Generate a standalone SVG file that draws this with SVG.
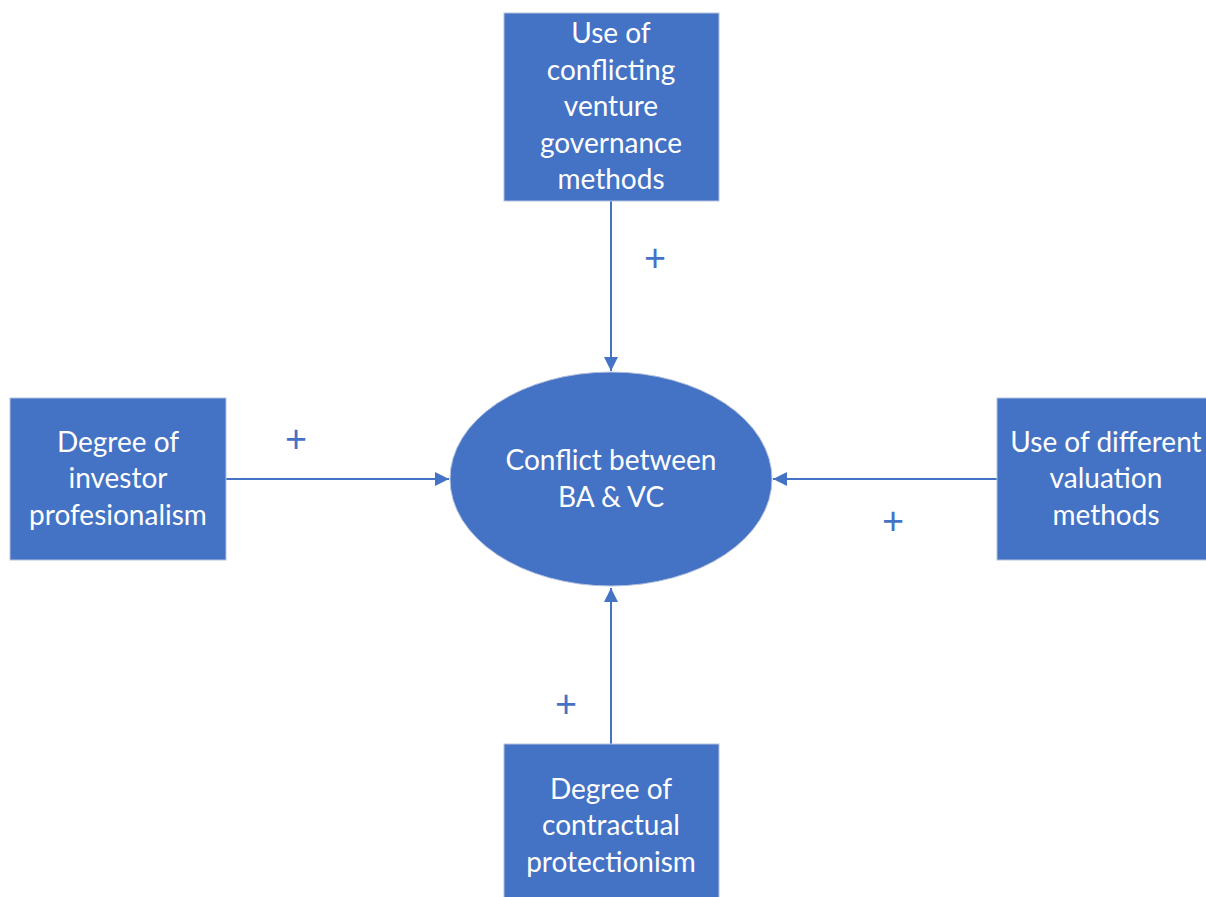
<svg xmlns="http://www.w3.org/2000/svg" width="1206" height="897" viewBox="0 0 1206 897">
<style>
.box{fill:#4472C4;stroke:#B4C2DE;stroke-width:1}
.t{font-family:Lato,"Noto Sans","Liberation Sans",sans-serif;font-size:28px;fill:#FFFFFF;text-anchor:middle}
.c{stroke:#4472C4;stroke-width:2;fill:none;marker-end:url(#ah)}
.p{font-family:Lato,"Liberation Sans",sans-serif;font-size:38px;fill:#4472C4;text-anchor:middle}
</style>
<defs>
<marker id="ah" viewBox="0 0 10 10" refX="10" refY="5" markerWidth="7" markerHeight="7" orient="auto" markerUnits="strokeWidth">
<path d="M0,0 L10,5 L0,10 z" fill="#4472C4"/>
</marker>
</defs>
<rect width="1206" height="897" fill="#FFFFFF"/>
<g id="connectors">
<line class="c" x1="611" y1="201" x2="611" y2="371"/>
<line class="c" x1="226" y1="479" x2="449" y2="479"/>
<line class="c" x1="997" y1="479" x2="773" y2="479"/>
<line class="c" x1="611" y1="744" x2="611" y2="588"/>
<text class="p" x="655" y="271">+</text>
<text class="p" x="296" y="452">+</text>
<text class="p" x="893" y="534">+</text>
<text class="p" x="566" y="717">+</text>
</g>
<g id="node-top">
<rect class="box" x="504" y="13" width="215" height="188"/>
<text class="t" x="611" y="43">Use of</text>
<text class="t" x="611" y="80">conflicting</text>
<text class="t" x="611" y="116">venture</text>
<text class="t" x="611" y="153">governance</text>
<text class="t" x="611" y="189">methods</text>
</g>
<g id="node-left">
<rect class="box" x="10" y="398" width="216" height="162"/>
<text class="t" x="118" y="452">Degree of</text>
<text class="t" x="118" y="488">investor</text>
<text class="t" x="118" y="525">profesionalism</text>
</g>
<g id="node-center">
<ellipse class="box" cx="611" cy="479" rx="161" ry="107"/>
<text class="t" x="611" y="470">Conflict between</text>
<text class="t" x="611" y="507">BA &amp; VC</text>
</g>
<g id="node-right">
<rect class="box" x="997" y="398" width="215" height="162"/>
<text class="t" x="1106" y="452">Use of different</text>
<text class="t" x="1106" y="488">valuation</text>
<text class="t" x="1106" y="525">methods</text>
</g>
<g id="node-bottom">
<rect class="box" x="504" y="744" width="215" height="160"/>
<text class="t" x="611" y="799">Degree of</text>
<text class="t" x="611" y="835">contractual</text>
<text class="t" x="611" y="872">protectionism</text>
</g>
</svg>
